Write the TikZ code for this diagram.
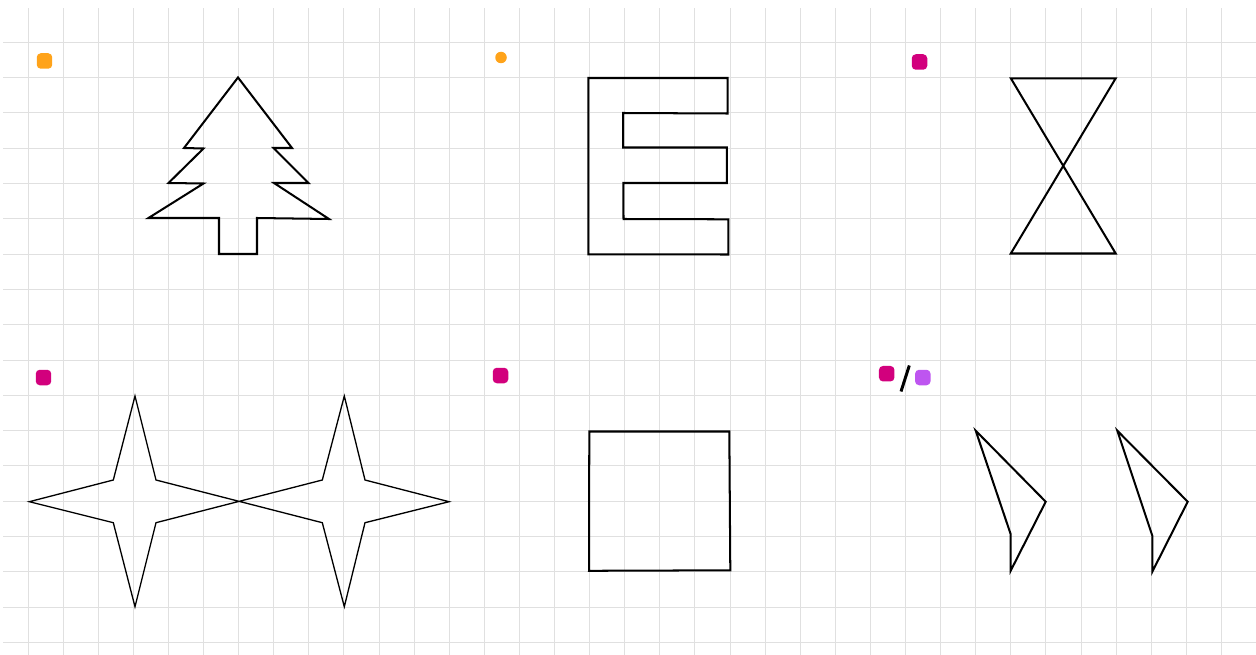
\documentclass[tikz,border=0pt]{standalone}
\usepackage{tikz}
\usetikzlibrary{positioning}
\definecolor{dotorange}{RGB}{255,163,26}
\definecolor{dotmagenta}{RGB}{210,0,125}
\definecolor{dotpurple}{RGB}{190,85,240}
\tikzset{
    gridline/.style={
        draw=black!12,
        line width=0.55pt
    },
    outline/.style={
        draw=black,
        line width=1.15pt,
        line join=miter
    },
    thinoutline/.style={
        draw=black,
        line width=0.75pt
    },
    marker/.style={
        rectangle,
        rounded corners=0.08cm,
        minimum size=0.31cm,
        inner sep=0pt
    }
}

\begin{document}
\begin{tikzpicture}[x=0.02cm, y=-0.02cm]
\useasboundingbox (0,0) rectangle (1256,655);

% grid
\foreach \k in {0,...,34}
    \draw [gridline] ({28+35.1*\k},8) -- ({28+35.1*\k},655);
\foreach \k in {0,...,17}
    \draw [gridline] (3,{42.3+35.3*\k}) -- (1256,{42.3+35.3*\k});

% markers
\node (m1) [marker, fill=dotorange] at (44.5,61) {};
\node (m2) [circle, fill=dotorange, minimum size=0.23cm, inner sep=0pt] at (501,57.5) {};
\node (m3) [marker, fill=dotmagenta] at (919.5,62) {};
\node (m4) [marker, fill=dotmagenta] at (43.5,377.5) {};
\node (m5) [marker, fill=dotmagenta] at (500.5,375.5) {};
\node (m6) [marker, fill=dotmagenta] at (886.7,373.7) {};
\node (m7) [marker, fill=dotpurple] at (922.8,377.5) {};
\coordinate (slashtop) at (909.3,365.5);
\coordinate (slashbot) at (901,391.5);
\draw [black, line width=1.7pt] (slashtop) -- (slashbot);

% tree
\draw [outline] (238,77.5) -- (292,148) -- (273.5,148) -- (308.5,183) -- (274,183)
    -- (329,219) -- (257,218) -- (257,254) -- (219,254) -- (219,218) -- (148.5,218)
    -- (203.5,183.5) -- (168.5,183) -- (203.5,148.5) -- (184,148) -- cycle;

% letter E
\draw [outline] (588.3,78) -- (727.5,78) -- (727.5,113.5) -- (623,113) -- (623,147.5)
    -- (726.8,147.5) -- (726.8,183) -- (623.3,183) -- (623.5,219) -- (728.3,219.3)
    -- (728.3,254.5) -- (588.3,254.3) -- cycle;

% hourglass
\draw [outline] (1010.8,78.3) -- (1115.7,78.3) -- (1010.8,253.5) -- (1115.7,253.5) -- cycle;

% double star
\draw [thinoutline] (135,396) -- (156,480) -- (322.3,522.7) -- (344.3,606.7) -- (365,522.7)
    -- (449,501.7) -- (365,480) -- (344.3,396) -- (322.3,480) -- (156,522.7)
    -- (135,606.7) -- (113.3,522.7) -- (29.3,501.7) -- (113.3,480) -- cycle;

% square
\draw [outline] (589.3,431.5) -- (729.3,431.5) -- (730.3,570.3) -- (589,570.8) -- cycle;

% darts
\draw [outline] (975.7,430.7) -- (1045.7,501.7) -- (1010.7,570.7) -- (1010.7,534.3) -- cycle;
\draw [outline] (1117.3,430.7) -- (1187.7,501.7) -- (1152.3,571.7) -- (1152.3,535.7) -- cycle;

\end{tikzpicture}
\end{document}
